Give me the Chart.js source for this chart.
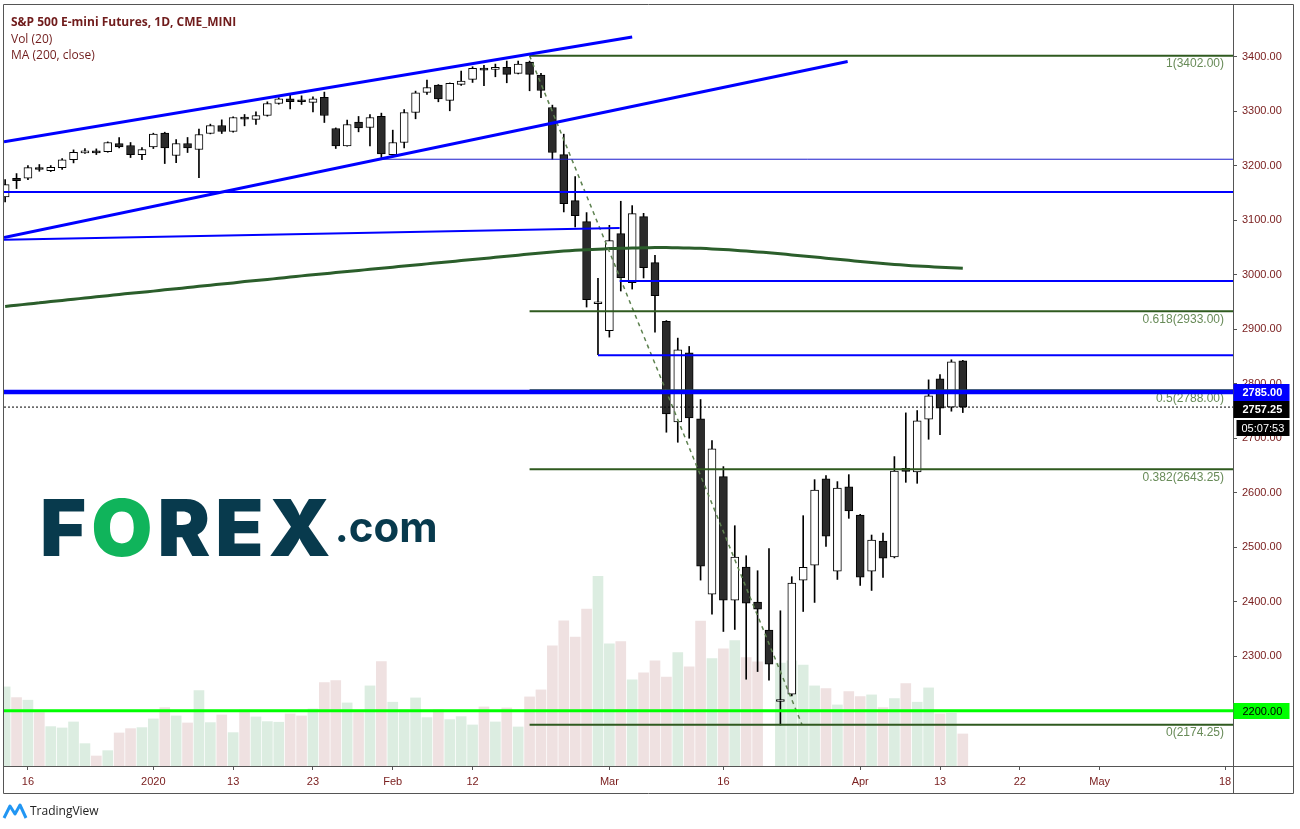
<!DOCTYPE html>
<html>
<head>
<meta charset="utf-8">
<script src="https://cdn.jsdelivr.net/npm/chart.js@4.4.1/dist/chart.umd.min.js"></script>
<style>
html,body{margin:0;padding:0;background:#fff;}
#wrap{position:relative;width:1300px;height:829px;overflow:hidden;background:#fff;}
#c{position:absolute;left:0;top:0;}
.hdr{position:absolute;left:11px;font-family:"Open Sans",sans-serif;font-size:12px;color:#701c1c;line-height:16px;white-space:nowrap;}
#logo{position:absolute;left:40px;top:479px;white-space:nowrap;font-family:Inter,"Open Sans",sans-serif;color:#083a4d;}
#logo .big{font-size:79px;font-weight:900;letter-spacing:5px;}
#logo .o{color:#10b45b;}
#logo .com{font-size:42px;font-weight:700;position:relative;top:-14px;margin-left:-1px;letter-spacing:0px;}
#tv{position:absolute;left:2px;top:801px;font-family:"Open Sans",sans-serif;font-size:12px;color:#222;}
#tv svg{position:absolute;left:0;top:0;}
#tv span{position:absolute;left:28px;top:1px;white-space:nowrap;}
</style>
</head>
<body>
<div id="wrap">
<canvas id="c" width="1300" height="829" style="width:1300px;height:829px"></canvas>
<div class="hdr" style="top:14px;font-weight:bold">S&amp;P 500 E-mini Futures, 1D, CME_MINI</div>
<div class="hdr" style="top:31px">Vol (20)</div>
<div class="hdr" style="top:47px">MA (200, close)</div>
<div id="logo"><span class="big">F<span class="o">O</span>REX</span><span class="com">.com</span></div>
<div id="tv"><svg width="26" height="20" viewBox="0 0 26 20"><path d="M2 17 L8 5 L13 13 L18 4 L24 17" fill="none" stroke="#2196f3" stroke-width="3" stroke-linejoin="round"/></svg><span>TradingView</span></div>
</div>
<script>
// ---------------- data ----------------
const dates = [
 '2019-12-12','2019-12-13','2019-12-16','2019-12-17','2019-12-18','2019-12-19','2019-12-20','2019-12-23','2019-12-24','2019-12-26','2019-12-27','2019-12-30','2019-12-31',
 '2020-01-02','2020-01-03','2020-01-06','2020-01-07','2020-01-08','2020-01-09','2020-01-10','2020-01-13','2020-01-14','2020-01-15','2020-01-16','2020-01-17','2020-01-21','2020-01-22','2020-01-23','2020-01-24','2020-01-27','2020-01-28','2020-01-29','2020-01-30','2020-01-31',
 '2020-02-03','2020-02-04','2020-02-05','2020-02-06','2020-02-07','2020-02-10','2020-02-11','2020-02-12','2020-02-13','2020-02-14','2020-02-18','2020-02-19','2020-02-20','2020-02-21','2020-02-24','2020-02-25','2020-02-26','2020-02-27','2020-02-28',
 '2020-03-02','2020-03-03','2020-03-04','2020-03-05','2020-03-06','2020-03-09','2020-03-10','2020-03-11','2020-03-12','2020-03-13','2020-03-16','2020-03-17','2020-03-18','2020-03-19','2020-03-20','2020-03-23','2020-03-24','2020-03-25','2020-03-26','2020-03-27','2020-03-30','2020-03-31',
 '2020-04-01','2020-04-02','2020-04-03','2020-04-06','2020-04-07','2020-04-08','2020-04-09','2020-04-13','2020-04-14','2020-04-15'
];
const opens = [
 3142.8,3177.1,3177.1,3196.1,3191.2,3196.7,3211.4,3223.7,3227.3,3226.1,3240.8,3237.2,3220.6,
 3234.7,3259.8,3218.8,3240.8,3229.8,3259.2,3273.9,3262.9,3287.0,3285.0,3292.3,3314.3,3322.9,3319.9,3316.2,3325.4,3268.4,3236.6,3280.0,3270.3,3290.5,
 3220.6,3242.7,3297.8,3334.6,3348.0,3319.9,3349.3,3358.4,3378.6,3376.8,3380.5,3369.5,3390.3,3366.4,3307.0,3220.6,3136.1,3097.6,2946.9,
 2897.3,3075.5,2985.5,3106.7,3022.2,2914.4,2730.1,2856.9,2735.6,2414.1,2629.7,2403.1,2463.7,2399.4,2348.0,2217.0,2230.4,2439.8,2467.4,2625.4,2456.3,2610.7,
 2559.2,2456.3,2511.5,2482.1,2645.0,2638.2,2735.0,2809.1,2757.0,2842.1
];
const highs = [
 3174.7,3185.7,3200.4,3202.3,3200.4,3213.3,3229.2,3231.6,3231.0,3243.9,3251.9,3242.7,3233.5,
 3259.8,3261.6,3248.2,3251.9,3267.2,3276.4,3284.3,3289.8,3294.1,3299.0,3317.4,3324.8,3329.7,3328.4,3326.6,3335.2,3269.5,3283.7,3290.5,3294.1,3296.6,
 3265.4,3303.3,3337.0,3357.2,3349.0,3352.0,3373.7,3381.7,3384.2,3386.6,3392.1,3392.1,3392.1,3369.5,3311.3,3258.0,3180.2,3114.1,2993.4,
 3090.8,3134.9,3126.9,3112.8,3035.7,2916.0,2883.8,2868.5,2771.1,2695.8,2648.0,2539.6,2484.5,2457.0,2497.4,2383.5,2446.0,2558.0,2624.1,2631.5,2620.5,2633.3,
 2560.5,2522.5,2526.1,2666.4,2746.6,2750.9,2807.2,2817.0,2844.0,2843.0
];
const lows = [
 3133.7,3158.2,3174.7,3190.0,3189.4,3193.1,3205.3,3222.5,3220.6,3224.9,3232.9,3215.1,3211.4,
 3231.6,3204.1,3205.9,3224.3,3178.4,3258.5,3259.2,3261.6,3273.3,3275.8,3291.0,3313.0,3304.5,3312.5,3299.0,3279.4,3231.7,3236.0,3262.3,3236.6,3215.1,
 3216.4,3232.9,3286.2,3330.9,3317.4,3300.9,3347.4,3352.9,3346.8,3363.3,3352.3,3368.5,3337.6,3324.8,3212.1,3115.3,3087.7,2940.8,2853.2,
 2885.6,2970.2,2973.8,2994.1,2894.8,2711.1,2692.7,2700.1,2439.8,2377.3,2345.5,2349.2,2257.9,2272.0,2256.1,2174.0,2227.3,2382.2,2398.8,2501.6,2441.0,2553.1,
 2430.0,2420.8,2444.7,2480.5,2619.2,2617.4,2698.2,2706.8,2749.7,2747.2
];
const closes = [
 3165.5,3172.9,3196.7,3193.1,3197.3,3210.8,3224.9,3226.7,3223.7,3242.7,3234.7,3220.6,3229.8,
 3258.0,3232.9,3240.8,3232.9,3257.4,3273.9,3262.9,3288.6,3285.5,3292.3,3314.3,3322.9,3317.4,3317.4,3322.9,3292.3,3236.6,3275.8,3269.6,3288.6,3221.9,
 3242.7,3297.8,3333.9,3343.7,3322.9,3351.1,3355.4,3378.6,3375.6,3378.6,3367.6,3386.6,3367.6,3338.2,3224.3,3130.6,3108.6,2954.2,2949.3,
 3062.6,2994.7,3112.2,3013.0,2961.6,2744.8,2862.4,2737.4,2465.5,2680.5,2403.1,2482.1,2397.6,2386.5,2285.5,2219.0,2434.3,2463.1,2605.1,2520.6,2608.8,2566.6,
 2445.3,2513.3,2480.2,2640.0,2639.0,2731.9,2777.8,2755.2,2840.3,2757.25
];
// volume, thousands of contracts
const volumes = [
 1975,1708,1643,1333,983,950,1100,558,250,383,825,933,958,
 1175,1458,1250,1075,1883,1083,1275,833,1400,1225,1108,1093,1300,1250,1425,2083,2133,1575,1333,2000,2608,
 1593,1408,1700,1208,1408,1158,1233,1025,1475,1100,1450,975,1725,1900,3000,3625,3218,3918,4733,
 3050,3108,2150,2325,2625,2218,2833,2475,3618,2683,2925,3133,2708,2600,null,2568,2625,2518,2000,1933,1525,1858,
 1733,1775,1458,1683,2058,1593,1950,1300,1318,800
];
const ma200 = [
 2942,2944,2946.5,2948.5,2951,2953,2955,2957.5,2959.5,2961.5,
 2964,2966,2968,2970,2972.5,2974.5,2976.5,2979,2981,2983,
 2985,2987.5,2989.5,2991.5,2993.5,2996,2998,3000,3002,3004,
 3006,3008,3010,3012,3014,3016,3018,3020,3022,3024,
 3026,3028,3030,3032,3034,3036,3038,3040,3042,3043.5,
 3045,3046,3047,3048,3048.5,3049,3049.5,3050,3050,3049.5,
 3049,3048.5,3047.5,3046.5,3045,3043.5,3042,3040.5,3038.5,3036.5,
 3034.5,3032.5,3030.5,3028.5,3026.5,3024.5,3022.5,3020.5,3019,3017.5,
 3016,3015,3014,3013,3012
];
const xTickIndex  = [2, 13, 20, 27, 34, 41, 53, 63, 75, 82, 89, 96, 107];
const xTickLabels = ['16','2020','13','23','Feb','12','Mar','16','Apr','13','22','May','18'];
const yTickValues = [2200,2300,2400,2500,2600,2700,2800,2900,3000,3100,3200,3300,3400];

// drawings (bar index, price)
const fibLabels = ['1','0.618','0.5','0.382','0'];
const fibPrices = [3402.00, 2933.00, 2788.00, 2643.25, 2174.25];
const fibStart = 46;
const fibDiagonal = [{x:46, y:3402.00}, {x:69.9, y:2174.25}];
const channelUpper = [{x:-0.1, y:3244.2}, {x:55.0, y:3436.2}];
const channelLower = [{x:-0.1, y:3068.4}, {x:73.9, y:3391.2}];
const slopedLine   = [{x:-0.1, y:3064.2}, {x:53.9, y:3085.8}];
const levelFull    = 3152;      // full width blue
const levelThin    = {start:33, price:3212};
const levelA       = {start:53.9, price:2988.5};
const levelB       = {start:52, price:2852.5};
const alertPrice   = 2785.00;
const lastPrice    = 2757.25;
const supportPrice = 2200.00;
const countdown    = '05:07:53';

// ---------------- view ----------------
const X_MIN = -0.1, X_MAX = 107.7;
const Y_MIN = 2098.7, Y_MAX = 3495.0;
const AXIS_COLOR = '#555555';
const TXT = '#7b2020';
const BLUE = '#0000ff';
const FIB = '#2f5a1f';

const isUp = closes.map((c, i) => c >= opens[i]);
const bodies = dates.map((d, i) => ({x: i, y: [opens[i], closes[i]]}));
const wicks  = dates.map((d, i) => ({x: i, y: [lows[i], highs[i]]}));
const vols   = dates.map((d, i) => ({x: i, y: volumes[i]}));
const maPts  = dates.map((d, i) => ({x: i, y: ma200[i]}));
const hline = (start, price) => [{x: start, y: price}, {x: X_MAX, y: price}];
const lineDs = (data, color, width, extra) => Object.assign({type:'line', data, borderColor: color, borderWidth: width, pointRadius: 0, fill: false, tension: 0, order: 0}, extra || {});

const datasets = [
  lineDs(hline(X_MIN, alertPrice), BLUE, 4.5),
  lineDs(hline(X_MIN, supportPrice), '#00ff00', 3),
  lineDs(hline(X_MIN, lastPrice), '#000000', 1, {borderDash: [2, 2]}),
  lineDs(channelUpper, BLUE, 3),
  lineDs(channelLower, BLUE, 3),
  lineDs(slopedLine, BLUE, 2),
  lineDs(hline(X_MIN, levelFull), BLUE, 2),
  lineDs(hline(levelThin.start, levelThin.price), '#1a1acc', 1),
  lineDs(hline(levelA.start, levelA.price), BLUE, 2),
  lineDs(hline(levelB.start, levelB.price), BLUE, 2),
  ...fibPrices.map(p => lineDs(hline(fibStart, p), FIB, 2)),
  lineDs(fibDiagonal, '#5e8250', 1.5, {borderDash: [4, 4]}),
  {type:'line', data: maPts, borderColor:'#2b5e2b', borderWidth:3, pointRadius:0, fill:false, tension:0.2, order:1},
  {type:'bar', data: bodies, backgroundColor: isUp.map(u => u ? '#ffffff' : '#2b2b2b'), borderColor:'#000000', borderWidth:1, borderSkipped:false, barThickness:8, grouped:false, minBarLength:2, order:2},
  {type:'bar', data: wicks, backgroundColor:'#000000', borderWidth:0, barThickness:1, grouped:false, order:3},
  {type:'bar', data: vols, yAxisID:'y2', backgroundColor: isUp.map(u => u ? '#dcede1' : '#efe1e1'), borderWidth:0, barThickness:10, grouped:false, order:10}
];

const overlay = {
  id: 'overlay',
  beforeDatasetsDraw(chart) {
    const {ctx, chartArea, scales} = chart;
    ctx.save();
    ctx.font = '12px "Liberation Sans", Arial, sans-serif';
    ctx.fillStyle = '#688b58';
    ctx.textAlign = 'right';
    ctx.textBaseline = 'middle';
    fibPrices.forEach((p, k) => {
      ctx.fillText(fibLabels[k] + '(' + p.toFixed(2) + ')', chartArea.right - 9, scales.y.getPixelForValue(p) + 8);
    });
    ctx.restore();
  },
  afterDraw(chart) {
    const {ctx, chartArea, scales} = chart;
    const y = scales.y;
    ctx.save();
    // frame
    ctx.strokeStyle = AXIS_COLOR;
    ctx.lineWidth = 1;
    ctx.beginPath();
    ctx.rect(3.5, 4.5, 1290, 789);
    ctx.moveTo(chartArea.right + 0.5, 4.5); ctx.lineTo(chartArea.right + 0.5, 793.5);
    ctx.moveTo(3.5, chartArea.bottom + 0.5); ctx.lineTo(1293.5, chartArea.bottom + 0.5);
    ctx.stroke();
    // price boxes
    const bx = chartArea.right + 0.5, bw = 56;
    ctx.font = 'bold 11px "Liberation Sans", Arial, sans-serif';
    ctx.textAlign = 'left';
    ctx.textBaseline = 'middle';
    const yb = Math.round(y.getPixelForValue(alertPrice));
    ctx.fillStyle = BLUE; ctx.fillRect(bx, yb - 8, bw, 17);
    ctx.fillStyle = '#ffffff'; ctx.fillText(alertPrice.toFixed(2), bx + 9, yb + 1);
    ctx.fillStyle = '#000000'; ctx.fillRect(bx, yb + 9, bw, 17);
    ctx.fillStyle = '#ffffff'; ctx.fillText(lastPrice.toFixed(2), bx + 9, yb + 18);
    ctx.fillStyle = '#000000'; ctx.fillRect(bx + 3, yb + 28, bw - 3, 16);
    ctx.fillStyle = '#ffffff'; ctx.font = '11px "Liberation Sans", Arial, sans-serif';
    ctx.fillText(countdown, bx + 8, yb + 36.5);
    const yg = Math.round(y.getPixelForValue(supportPrice));
    ctx.fillStyle = '#00ff00'; ctx.fillRect(bx, yg - 8, bw, 16);
    ctx.fillStyle = '#000000'; ctx.font = '11px "Liberation Sans", Arial, sans-serif';
    ctx.fillText(supportPrice.toFixed(2), bx + 9, yg + 0.5);
    ctx.restore();
  }
};

new Chart(document.getElementById('c'), {
  type: 'bar',
  data: {datasets},
  options: {
    responsive: false,
    animation: false,
    devicePixelRatio: 1,
    events: [],
    layout: {padding: {left: 4, top: 5, right: 7, bottom: 35}},
    plugins: {legend: {display: false}, tooltip: {enabled: false}, title: {display: false}},
    scales: {
      x: {
        type: 'linear', position: 'bottom', min: X_MIN, max: X_MAX, offset: false,
        afterBuildTicks: s => { s.ticks = xTickIndex.map(v => ({value: v})); },
        afterFit: s => { s.height = 28; s.paddingLeft = 0; s.paddingRight = 0; },
        ticks: {
          autoSkip: false, maxRotation: 0, minRotation: 0, padding: 5, color: TXT,
          font: {family: '"Liberation Sans", Arial, sans-serif', size: 11},
          callback: v => { const k = xTickIndex.indexOf(v); return k >= 0 ? xTickLabels[k] : ''; }
        },
        grid: {display: true, drawOnChartArea: false, drawTicks: true, tickLength: 4, color: AXIS_COLOR, offset: false},
        border: {display: true, color: AXIS_COLOR}
      },
      y: {
        type: 'linear', position: 'right', min: Y_MIN, max: Y_MAX, beginAtZero: false,
        afterBuildTicks: s => { s.ticks = yTickValues.map(v => ({value: v})); },
        afterFit: s => { s.width = 60; s.paddingTop = 0; s.paddingBottom = 0; },
        ticks: {
          padding: 5, color: TXT,
          font: {family: '"Liberation Sans", Arial, sans-serif', size: 11},
          callback: v => Number(v).toFixed(2)
        },
        grid: {display: true, drawOnChartArea: false, drawTicks: true, tickLength: 4, color: AXIS_COLOR},
        border: {display: true, color: AXIS_COLOR}
      },
      y2: {type: 'linear', display: false, min: 0, max: 19000}
    }
  },
  plugins: [overlay]
});
</script>
</body>
</html>
